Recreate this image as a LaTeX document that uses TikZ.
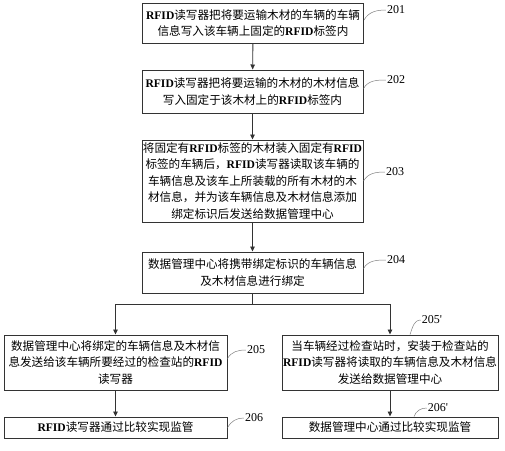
\documentclass[tikz,border=0pt]{standalone}
\usepackage{fontspec}
\setmainfont{Liberation Serif}
\newfontfamily\cjk{Noto Sans CJK SC}
\usetikzlibrary{arrows.meta}
\newcommand{\rfid}{{\rmfamily\bfseries RFID}}

\begin{document}
\begin{tikzpicture}[x=1pt,y=-1pt,
  box/.style={draw=black!80,line width=1pt,minimum width=221pt,align=center,
              inner sep=0pt,font=\cjk\fontsize{11.6}{16.5}\selectfont},
  arr/.style={-{Triangle[length=5pt,width=4.5pt]},line width=0.9pt,black!80},
  lead/.style={draw=black!50,line width=0.5pt},
  num/.style={font=\fontsize{12}{14}\selectfont,inner sep=1pt}]

  \useasboundingbox (0,0) rectangle (505,450);

  \node[box,minimum height=40pt] (b201) at (253,23)
    {\rfid 读写器把将要运输木材的车辆的车辆\\信息写入该车辆上固定的\rfid 标签内};
  \node[box,minimum height=43pt] (b202) at (252.5,91.5)
    {\rfid 读写器把将要运输的木材的木材信息\\写入固定于该木材上的\rfid 标签内};
  \node[box,minimum height=82pt] (b203) at (252.5,181)
    {将固定有\rfid 标签的木材装入固定有\rfid\\标签的车辆后，\rfid 读写器读取该车辆的\\
     车辆信息及该车上所装载的所有木材的木\\材信息，并为该车辆信息及木材信息添加\\
     绑定标识后发送给数据管理中心};
  \node[box,minimum height=41pt] (b204) at (252.5,272.5)
    {数据管理中心将携带绑定标识的车辆信息\\及木材信息进行绑定};
  \node[box,minimum width=223pt,minimum height=55pt] (b205) at (115.5,362.5)
    {数据管理中心将绑定的车辆信息及木材信\\息发送给该车辆所要经过的检查站的\rfid\\读写器};
  \node[box,minimum width=223pt,minimum height=21pt] (b206) at (115.5,427.5)
    {\rfid 读写器通过比较实现监管};
  \node[box,minimum width=216pt,minimum height=55pt] (b205p) at (390,362.5)
    {当车辆经过检查站时，安装于检查站的\\\rfid 读写器将读取的车辆信息及木材信息\\发送给数据管理中心};
  \node[box,minimum width=216pt,minimum height=21pt] (b206p) at (390,427.5)
    {数据管理中心通过比较实现监管};

  \draw[arr] (b201) -- (b202);
  \draw[arr] (b202) -- (b203);
  \draw[arr] (b203) -- (b204);
  \draw[arr] (b204.south) -- ++(0,11) -| (b205.north);
  \draw[arr] (b204.south) -- ++(0,11) -| (b205p.north);
  \draw[arr] (b205) -- (b206);
  \draw[arr] (b205p) -- (b206p);

  % step numbers
  \node[num] (n201) at (396,10) {201};
  \node[num] (n202) at (396,80) {202};
  \node[num] (n203) at (395,172) {203};
  \node[num] (n204) at (396,260) {204};
  \node[num] (n205) at (256,350) {205};
  \node[num] (n206) at (254,418) {206};
  \node[num] (n205p) at (432,320) {205\textquotesingle};
  \node[num] (n206p) at (438,408) {206\textquotesingle};

  \draw[lead] ([yshift=3pt]b201.east) to[out=60,in=180] (n201.west);
  \draw[lead] ([yshift=3pt]b202.east) to[out=60,in=180] (n202.west);
  \draw[lead] (b203.east) to[out=60,in=180] (n203.west);
  \draw[lead] ([yshift=4pt]b204.east) to[out=60,in=180] (n204.west);
  \draw[lead] ([yshift=4pt]b205.east) to[out=60,in=180] (n205.west);
  \draw[lead] (b206.east) to[out=60,in=180] (n206.west);
  \draw[lead] ([xshift=20pt]b205p.north) to[out=70,in=180] (n205p.west);
  \draw[lead] ([xshift=24pt]b206p.north) to[out=70,in=180] (n206p.west);

\end{tikzpicture}
\end{document}
